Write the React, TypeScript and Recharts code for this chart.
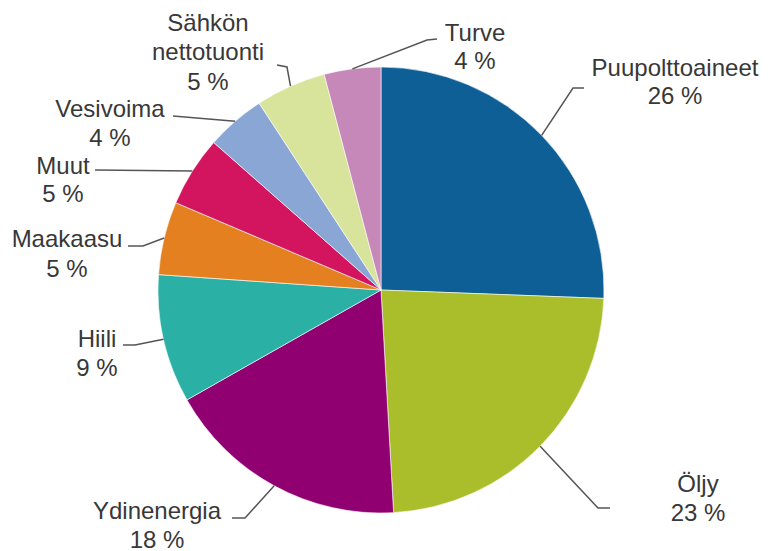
import React from "react";
import { PieChart, Pie, Cell } from "recharts";

// ---- data ----
const categories = [
  "Puupolttoaineet",
  "Öljy",
  "Ydinenergia",
  "Hiili",
  "Maakaasu",
  "Muut",
  "Vesivoima",
  "Sähkön nettotuonti",
  "Turve",
];
const shares = [25.6, 23.5, 17.7, 9.3, 5.3, 5.1, 4.3, 5.1, 4.1];
const shareLabels = ["26 %", "23 %", "18 %", "9 %", "5 %", "5 %", "4 %", "5 %", "4 %"];
const nameLines = [
  ["Puupolttoaineet"],
  ["Öljy"],
  ["Ydinenergia"],
  ["Hiili"],
  ["Maakaasu"],
  ["Muut"],
  ["Vesivoima"],
  ["Sähkön", "nettotuonti"],
  ["Turve"],
];

// ---- styles / layout ----
const COLORS = [
  "#0d5f96",
  "#aabd2b",
  "#900071",
  "#2bb0a6",
  "#e4801f",
  "#d3145f",
  "#8aa6d4",
  "#d8e49b",
  "#c688b9",
];

// label layout relative to pie centre: text centre (tx, ty of first line), line gap, leader bend and end points
const LABEL_LAYOUT = [
  { tx: 294, ty: -223, gap: 28, pts: [[192, -202], [203, -202]] },
  { tx: 317, ty: 193, gap: 29, pts: [[217, 218], [229, 218]] },
  { tx: -224, ty: 220, gap: 29, pts: [[-136, 228], [-149, 228]] },
  { tx: -284, ty: 48, gap: 29, pts: [[-246, 55], [-258, 55]] },
  { tx: -314, ty: -52, gap: 30, pts: [[-238, -44], [-253, -44]] },
  { tx: -318, ty: -125, gap: 28, pts: [[-286, -120]] },
  { tx: -271, ty: -182, gap: 29, pts: [[-208, -174]] },
  { tx: -173, ty: -268, gap: 29.5, pts: [[-94, -223], [-104, -225]] },
  { tx: 94, ty: -258, gap: 28, pts: [[46, -250], [56, -251]] },
];

const FONT = "'Liberation Sans', Arial, sans-serif";
const FONT_SIZE = 24;
const RAD = Math.PI / 180;

const data = categories.map((name, i) => ({
  name,
  value: shares[i],
  pct: shareLabels[i],
}));

const renderLabel = (props: any) => {
  const { cx, cy, midAngle, outerRadius, index } = props;
  const lay = LABEL_LAYOUT[index];
  const ex = cx + outerRadius * Math.cos(-midAngle * RAD);
  const ey = cy + outerRadius * Math.sin(-midAngle * RAD);
  const pts = [[ex, ey], ...lay.pts.map(([x, y]) => [cx + x, cy + y])];
  const lines = [...nameLines[index], shareLabels[index]];
  return (
    <g key={`lbl-${index}`}>
      <polyline
        points={pts.map((p) => p.join(",")).join(" ")}
        fill="none"
        stroke="#555"
        strokeWidth={1.5}
      />
      {lines.map((t, j) => (
        <text
          key={j}
          x={cx + lay.tx}
          y={cy + lay.ty + j * lay.gap}
          textAnchor="middle"
          dominantBaseline="central"
          fill="#383838"
          fontFamily={FONT}
          fontSize={FONT_SIZE}
        >
          {t}
        </text>
      ))}
    </g>
  );
};

export default function App() {
  return (
    <div style={{ width: 760, height: 543, background: "#fff" }}>
      <PieChart
        width={760}
        height={543}
        margin={{ top: 0, right: 0, bottom: 0, left: 0 }}
        style={{ overflow: "visible" }}
      >
        <Pie
          data={data}
          dataKey="value"
          nameKey="name"
          cx={373}
          cy={282}
          outerRadius={223}
          startAngle={90}
          endAngle={-270}
          stroke="#ffffff"
          strokeWidth={0.6}
          label={renderLabel}
          labelLine={false}
          isAnimationActive={false}
        >
          {data.map((d, i) => (
            <Cell key={d.name} fill={COLORS[i]} />
          ))}
        </Pie>
      </PieChart>
    </div>
  );
}
